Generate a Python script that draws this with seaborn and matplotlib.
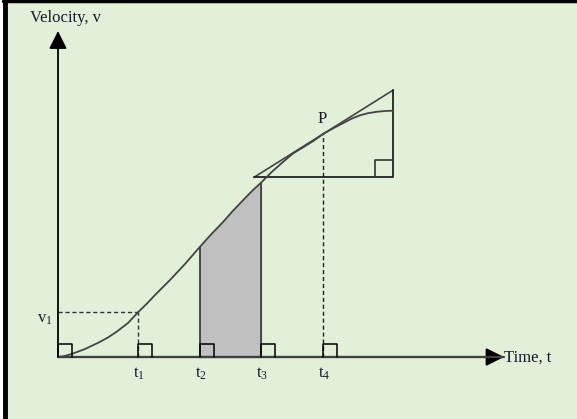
import seaborn as sns
import matplotlib.pyplot as plt
import pandas as pd
from matplotlib.patches import Rectangle

# Datos de la curva velocidad-tiempo (unidades arbitrarias)
tiempo = [0, 6, 13.7, 27, 40.3, 50, 58.7, 70, 80.3, 89, 97, 112, 127, 141.5,
          153, 165.3, 175, 185.3, 194, 203, 214, 225.3, 235, 245.3, 255, 265,
          275, 285.3, 294, 302, 310, 318.7, 327, 335.3]
velocidad = [0, 0.8, 3, 8, 14.3, 19.5, 25.3, 34, 45, 53.5, 62, 77, 93, 109.7,
             122.5, 135.3, 146.3, 157, 166, 174.3, 185.3, 195.3, 203.5, 209.8, 215.8, 223,
             228.6, 234, 238.5, 241.7, 243.8, 245.2, 246, 246.3]

t_marcas = [80.3, 141.5, 203, 265]
t_etiquetas = ["t$_\\mathrm{1}$", "t$_\\mathrm{2}$", "t$_\\mathrm{3}$", "t$_\\mathrm{4}$"]
v1 = 45
v1_etiqueta = "v$_\\mathrm{1}$"

# tangente en P
tangente_x = [196, 335.3]
tangente_y = [179.7, 267]

sns.set_theme(style="white")
plt.rcParams["font.family"] = ["Liberation Serif", "DejaVu Serif"]
plt.rcParams["mathtext.fontset"] = "custom"
plt.rcParams["mathtext.rm"] = "Liberation Serif"
plt.rcParams["mathtext.it"] = "Liberation Serif"

verde = "#E2EFD9"
fig = plt.figure(figsize=(5.77, 4.19), dpi=100)
fig.patch.set_facecolor("white")
ax = fig.add_axes([0, 0, 1, 1])
ax.set_xlim(-58, 519)
ax.set_ylim(-62, 357)
ax.set_facecolor(verde)
ax.axis("off")
fig.patches.append(Rectangle((3 / 577, 0), 1, 1, transform=fig.transFigure,
                             facecolor=verde, edgecolor="none", zorder=-10))

# borde izquierdo y superior
fig.add_artist(plt.Line2D([5 / 577, 5 / 577], [0, 1], color="black", lw=3.5,
                          transform=fig.transFigure))
fig.add_artist(plt.Line2D([3 / 577, 1], [1 - 1.5 / 419, 1 - 1.5 / 419], color="black",
                          lw=2.5, transform=fig.transFigure))

df = pd.DataFrame({"t": tiempo, "v": velocidad})

# area sombreada entre t2 y t3
tramo = df[(df.t >= t_marcas[1]) & (df.t <= t_marcas[2])]
ax.fill_between(tramo.t, 0, tramo.v, color="#C0C0C0", zorder=1)
for tx in t_marcas[1:3]:
    vy = df.loc[df.t == tx, "v"].iloc[0]
    ax.plot([tx, tx], [0, vy], color="#333333", lw=1.2, zorder=2)

sns.lineplot(data=df, x="t", y="v", ax=ax, color="#444444", lw=1.3,
             estimator=None, zorder=3)
ax.set_xlabel("")
ax.set_ylabel("")

# ejes con flechas
ax.annotate("", xy=(446, 0), xytext=(0, 0),
            arrowprops=dict(arrowstyle="-|>,head_length=0.9,head_width=0.45",
                            color="black", lw=1.5, shrinkA=0, shrinkB=0), zorder=4)
ax.annotate("", xy=(0, 326), xytext=(0, 0),
            arrowprops=dict(arrowstyle="-|>,head_length=0.9,head_width=0.45",
                            color="black", lw=1.3, shrinkA=0, shrinkB=0), zorder=4)
ax.plot([0, 446], [0, 0], color="#404040", lw=1.6, zorder=4)

# lineas punteadas
vP = velocidad[tiempo.index(t_marcas[3])]
ax.plot([0, t_marcas[0]], [v1, v1], ls=(0, (3, 2)), color="#333333", lw=1)
ax.plot([t_marcas[0], t_marcas[0]], [0, v1], ls=(0, (3, 2)), color="#333333", lw=1)
ax.plot([t_marcas[3], t_marcas[3]], [0, vP], ls=(0, (3, 2)), color="#222222", lw=1)

# tangente y triangulo
ax.plot(tangente_x, tangente_y, color="#444444", lw=1.2)
ax.plot([tangente_x[0], tangente_x[1], tangente_x[1]],
        [tangente_y[0], tangente_y[0], tangente_y[1]], color="#222222", lw=1.3)
ax.plot([tangente_x[1] - 18, tangente_x[1] - 18, tangente_x[1]],
        [tangente_y[0], tangente_y[0] + 17, tangente_y[0] + 17], color="#333333", lw=1.2)

# angulos rectos sobre el eje x
for bx in [0] + t_marcas:
    ax.plot([bx, bx, bx + 14, bx + 14], [0, 13, 13, 0], color="black", lw=1.1, zorder=5)

# textos
color_texto = "#1a1a2e"
ax.text(-28, 339, "Velocity, v", fontsize=12, va="center", ha="left", color=color_texto)
ax.text(446, -1, "Time, t", fontsize=12, va="center", ha="left", color=color_texto)
for tx, lab in zip(t_marcas, t_etiquetas):
    ax.text(tx + 1, -9, lab, fontsize=12, va="top", ha="center", color=color_texto)
ax.text(-13, 46, v1_etiqueta, fontsize=12, va="top", ha="center", color=color_texto)
ax.text(264, 238, "P", fontsize=12, va="center", ha="center", color=color_texto)

plt.savefig("out.png", dpi=100, facecolor=fig.get_facecolor())
